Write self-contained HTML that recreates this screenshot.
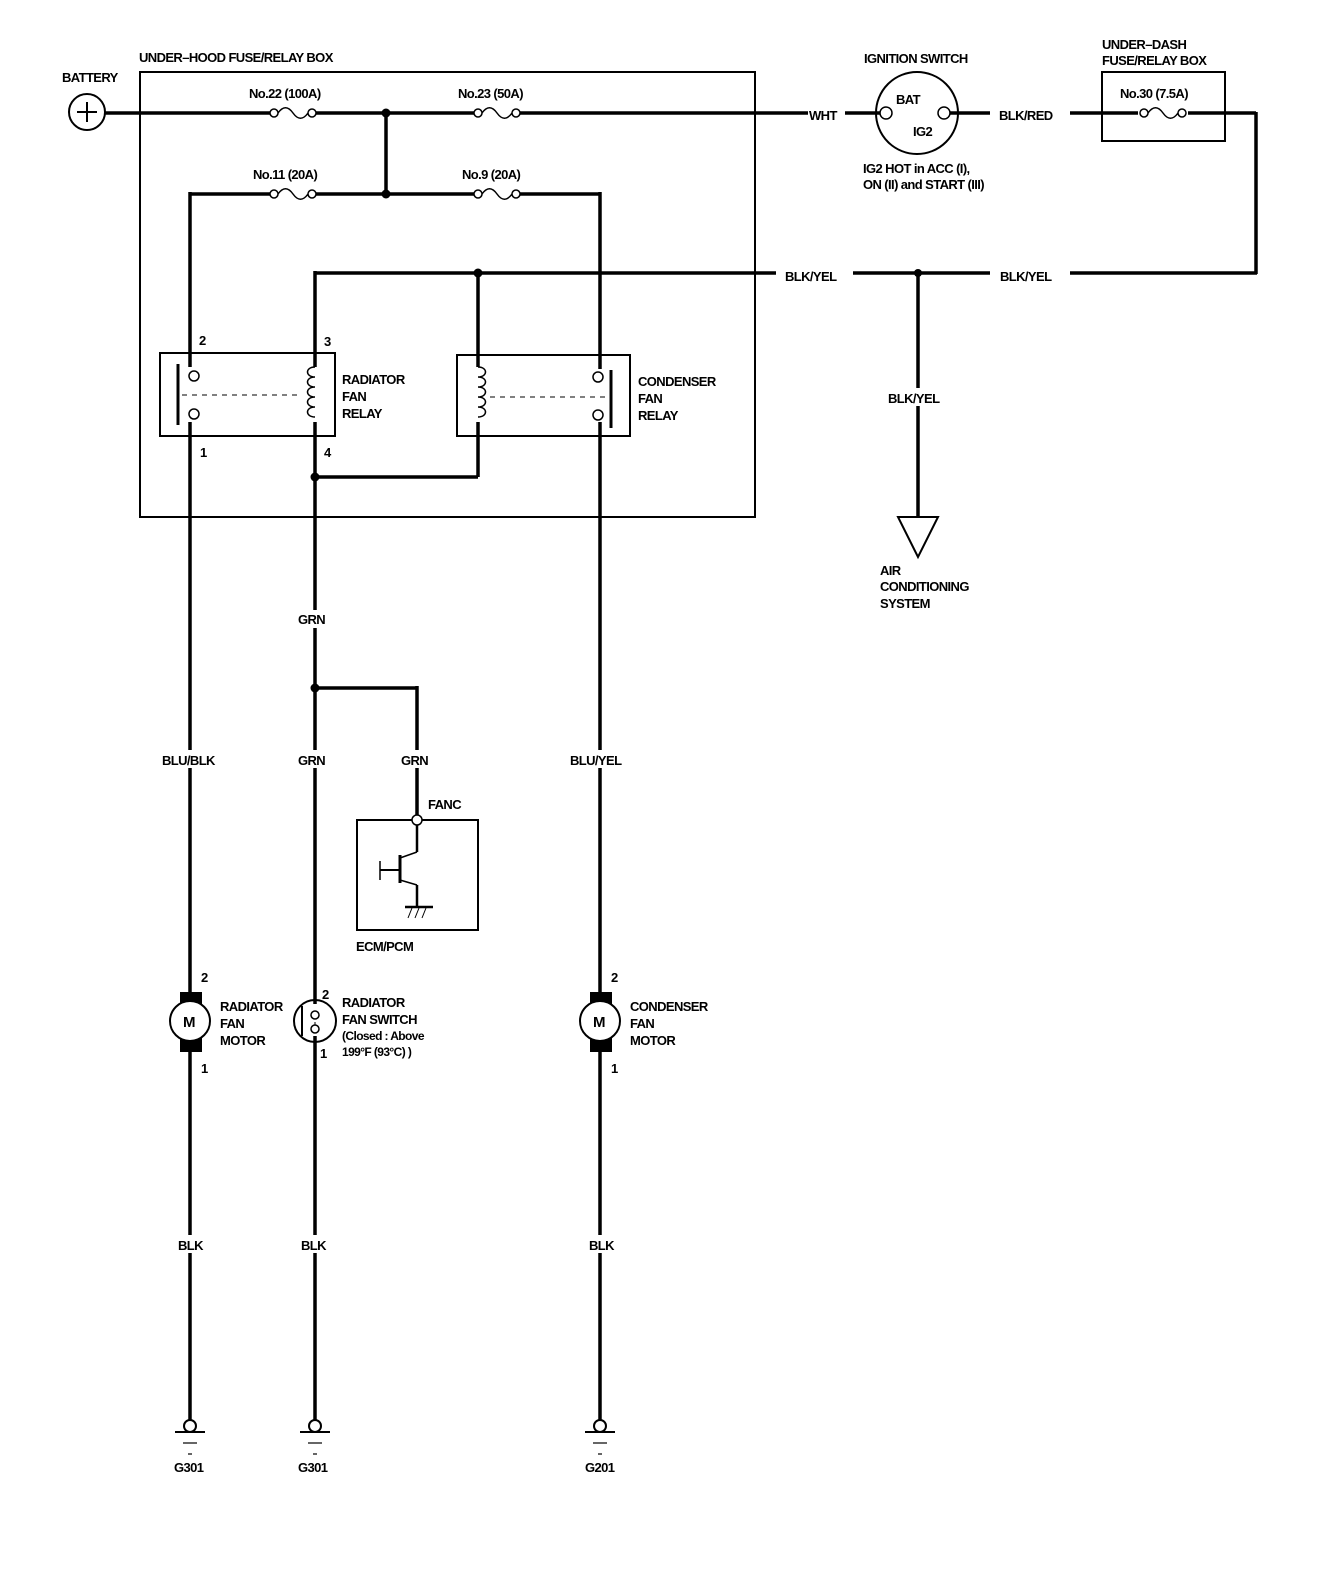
<!DOCTYPE html>
<html><head><meta charset="utf-8"><style>
html,body{margin:0;padding:0;background:#fff;}
svg{display:block;}
text{font-family:"Liberation Sans",sans-serif;font-weight:bold;font-size:13px;fill:#000;letter-spacing:-0.6px;}
</style></head><body>
<svg width="1328" height="1580" viewBox="0 0 1328 1580" xmlns="http://www.w3.org/2000/svg">
<defs>
<g id="fuse"><circle cx="-19" cy="0" r="4" fill="#fff" stroke="#000" stroke-width="1.5"/><circle cx="19" cy="0" r="4" fill="#fff" stroke="#000" stroke-width="1.5"/><path d="M-15 0 C-10 -7 -5 -7 0 0 C5 7 10 7 15 0" fill="none" stroke="#000" stroke-width="1.5"/></g>
<g id="gnd"><circle cx="0" cy="0" r="6" fill="#fff" stroke="#000" stroke-width="2"/><line x1="-15" y1="6" x2="15" y2="6" stroke="#000" stroke-width="2"/><line x1="-7" y1="17" x2="7" y2="17" stroke="#000" stroke-width="1.2"/><line x1="-2" y1="28" x2="2" y2="28" stroke="#000" stroke-width="1.2"/></g>
</defs>
<g fill="none" stroke="#000">
<!-- boxes -->
<rect x="140" y="72" width="615" height="445" stroke-width="2"/>
<rect x="1102" y="72" width="123" height="69" stroke-width="2"/>
<rect x="160" y="353" width="175" height="83" stroke-width="2"/>
<rect x="457" y="355" width="173" height="81" stroke-width="2"/>
<rect x="357" y="820" width="121" height="110" stroke-width="2"/>
<!-- wires -->
<g stroke-width="3.5">
<line x1="105" y1="113" x2="270" y2="113"/><line x1="316" y1="113" x2="474" y2="113"/><line x1="520" y1="113" x2="808" y2="113"/>
<line x1="845" y1="113" x2="882" y2="113"/><line x1="948" y1="113" x2="990" y2="113"/>
<line x1="1070" y1="113" x2="1138" y2="113"/><line x1="1188" y1="113" x2="1256" y2="113"/>
<line x1="1256" y1="112" x2="1256" y2="274"/>
<line x1="386" y1="113" x2="386" y2="194"/>
<line x1="190" y1="194" x2="270" y2="194"/><line x1="316" y1="194" x2="474" y2="194"/><line x1="520" y1="194" x2="600" y2="194"/>
<line x1="315" y1="273" x2="776" y2="273"/><line x1="853" y1="273" x2="990" y2="273"/><line x1="1070" y1="273" x2="1257" y2="273"/>
<line x1="190" y1="192" x2="190" y2="367"/><line x1="190" y1="422" x2="190" y2="1422"/>
<line x1="315" y1="271" x2="315" y2="367"/><line x1="315" y1="422" x2="315" y2="1004"/><line x1="315" y1="1036" x2="315" y2="1422"/>
<line x1="478" y1="273" x2="478" y2="367"/><line x1="478" y1="422" x2="478" y2="477"/><line x1="315" y1="477" x2="478" y2="477"/>
<line x1="600" y1="192" x2="600" y2="369"/><line x1="600" y1="422" x2="600" y2="1422"/>
<line x1="315" y1="688" x2="417" y2="688"/><line x1="417" y1="686" x2="417" y2="815"/>
<line x1="918" y1="273" x2="918" y2="517"/>
</g>
<!-- ignition switch -->
<circle cx="917" cy="113" r="41" stroke-width="2"/>
<!-- AC triangle -->
<path d="M898 517 L938 517 L918 557 Z" stroke-width="2"/>
<!-- battery -->
<circle cx="87" cy="112" r="18" stroke-width="2"/>
<line x1="77" y1="112" x2="97" y2="112" stroke-width="2"/><line x1="87" y1="102" x2="87" y2="122" stroke-width="2"/>
<!-- relay internals -->
<line x1="178" y1="364" x2="178" y2="425" stroke-width="3"/>
<line x1="182" y1="395" x2="300" y2="395" stroke-width="1" stroke-dasharray="5,5"/>
<path d="M315 367 C305 367 305 377 315 377 C305 377 305 387 315 387 C305 387 305 397 315 397 C305 397 305 407 315 407 C305 407 305 417 315 417" stroke-width="1.5"/>
<path d="M478 367 C488 367 488 377 478 377 C488 377 488 387 478 387 C488 387 488 397 478 397 C488 397 488 407 478 407 C488 407 488 417 478 417" stroke-width="1.5"/>
<line x1="490" y1="397" x2="610" y2="397" stroke-width="1" stroke-dasharray="5,5"/>
<line x1="611" y1="370" x2="611" y2="428" stroke-width="3"/>
<!-- ECM transistor -->
<line x1="417" y1="825" x2="417" y2="852" stroke-width="2.5"/>
<line x1="417" y1="852" x2="400" y2="858" stroke-width="1.5"/>
<line x1="400" y1="880" x2="417" y2="885" stroke-width="1.5"/>
<line x1="417" y1="885" x2="417" y2="907" stroke-width="2.5"/>
<line x1="400" y1="855" x2="400" y2="883" stroke-width="3"/>
<line x1="380" y1="870" x2="400" y2="870" stroke-width="2"/>
<line x1="380" y1="861" x2="380" y2="880" stroke-width="1.5"/>
<line x1="405" y1="907" x2="433" y2="907" stroke-width="2.5"/>
<path d="M412 908 l-4 10 M419 908 l-4 10 M426 908 l-4 10" stroke-width="1"/>
<!-- switch -->
<circle cx="315" cy="1021" r="21" stroke-width="2"/>
<line x1="302" y1="1006" x2="302" y2="1036" stroke-width="2"/>
<line x1="315" y1="1016" x2="315" y2="1026" stroke-width="1" stroke-dasharray="3,3"/>
</g>
<!-- dots/terminals -->
<g fill="#000">
<circle cx="386" cy="113" r="4.5"/><circle cx="386" cy="194" r="4.5"/><circle cx="478" cy="273" r="4.5"/><circle cx="918" cy="273" r="4"/><circle cx="315" cy="477" r="4.5"/><circle cx="315" cy="688" r="4.5"/>
<rect x="180" y="992" width="22" height="60"/><rect x="590" y="992" width="22" height="60"/>
</g>
<g fill="#fff" stroke="#000" stroke-width="1.5">
<circle cx="190" cy="1021" r="20" stroke-width="2"/><circle cx="600" cy="1021" r="20" stroke-width="2"/>
<circle cx="194" cy="376" r="5"/><circle cx="194" cy="414" r="5"/><circle cx="598" cy="377" r="5"/><circle cx="598" cy="415" r="5"/>
<circle cx="886" cy="113" r="6"/><circle cx="944" cy="113" r="6"/>
<circle cx="417" cy="820" r="5"/>
<circle cx="315" cy="1015" r="4"/><circle cx="315" cy="1029" r="4"/>
</g>
<use href="#fuse" x="293" y="113"/><use href="#fuse" x="497" y="113"/><use href="#fuse" x="293" y="194"/><use href="#fuse" x="497" y="194"/><use href="#fuse" x="1163" y="113"/>
<use href="#gnd" x="190" y="1426"/><use href="#gnd" x="315" y="1426"/><use href="#gnd" x="600" y="1426"/>
<!-- label backgrounds on vertical wires -->
<g fill="#fff">
<rect x="160" y="750" width="60" height="18"/><rect x="295" y="610" width="38" height="18"/><rect x="295" y="750" width="38" height="18"/><rect x="398" y="750" width="38" height="18"/><rect x="568" y="750" width="64" height="18"/><rect x="886" y="388" width="60" height="18"/>
<rect x="175" y="1235" width="30" height="18"/><rect x="298" y="1235" width="30" height="18"/><rect x="586" y="1235" width="30" height="18"/>
</g>
<text x="62" y="82">BATTERY</text>
<text x="139" y="62">UNDER–HOOD FUSE/RELAY BOX</text>
<text x="249" y="98">No.22 (100A)</text>
<text x="458" y="98">No.23 (50A)</text>
<text x="253" y="179">No.11 (20A)</text>
<text x="462" y="179">No.9 (20A)</text>
<text x="809" y="120">WHT</text>
<text x="864" y="63">IGNITION SWITCH</text>
<text x="896" y="104">BAT</text>
<text x="913" y="136">IG2</text>
<text x="863" y="173">IG2 HOT in ACC (I),</text>
<text x="863" y="189">ON (II) and START (III)</text>
<text x="999" y="120">BLK/RED</text>
<text x="1102" y="49">UNDER–DASH</text>
<text x="1102" y="65">FUSE/RELAY BOX</text>
<text x="1120" y="98">No.30 (7.5A)</text>
<text x="785" y="281">BLK/YEL</text>
<text x="1000" y="281">BLK/YEL</text>
<text x="888" y="403">BLK/YEL</text>
<text x="880" y="575">AIR</text>
<text x="880" y="591">CONDITIONING</text>
<text x="880" y="608">SYSTEM</text>
<text x="199" y="345">2</text><text x="324" y="346">3</text><text x="200" y="457">1</text><text x="324" y="457">4</text>
<text x="342" y="384">RADIATOR</text><text x="342" y="401">FAN</text><text x="342" y="418">RELAY</text>
<text x="638" y="386">CONDENSER</text><text x="638" y="403">FAN</text><text x="638" y="420">RELAY</text>
<text x="298" y="624">GRN</text>
<text x="162" y="765">BLU/BLK</text><text x="298" y="765">GRN</text><text x="401" y="765">GRN</text><text x="570" y="765">BLU/YEL</text>
<text x="428" y="809">FANC</text>
<text x="356" y="951">ECM/PCM</text>
<text x="201" y="982">2</text><text x="201" y="1073">1</text>
<text x="322" y="999">2</text><text x="320" y="1058">1</text>
<text x="611" y="982">2</text><text x="611" y="1073">1</text>
<text x="183" y="1027" style="font-size:15px">M</text><text x="593" y="1027" style="font-size:15px">M</text>
<text x="220" y="1011">RADIATOR</text><text x="220" y="1028">FAN</text><text x="220" y="1045">MOTOR</text>
<text x="342" y="1007">RADIATOR</text><text x="342" y="1024">FAN SWITCH</text><text x="342" y="1040" style="font-size:12px">(Closed : Above</text><text x="342" y="1056" style="font-size:12px">199°F (93°C) )</text>
<text x="630" y="1011">CONDENSER</text><text x="630" y="1028">FAN</text><text x="630" y="1045">MOTOR</text>
<text x="178" y="1250">BLK</text><text x="301" y="1250">BLK</text><text x="589" y="1250">BLK</text>
<text x="174" y="1472">G301</text><text x="298" y="1472">G301</text><text x="585" y="1472">G201</text>
</svg>
</body></html>
